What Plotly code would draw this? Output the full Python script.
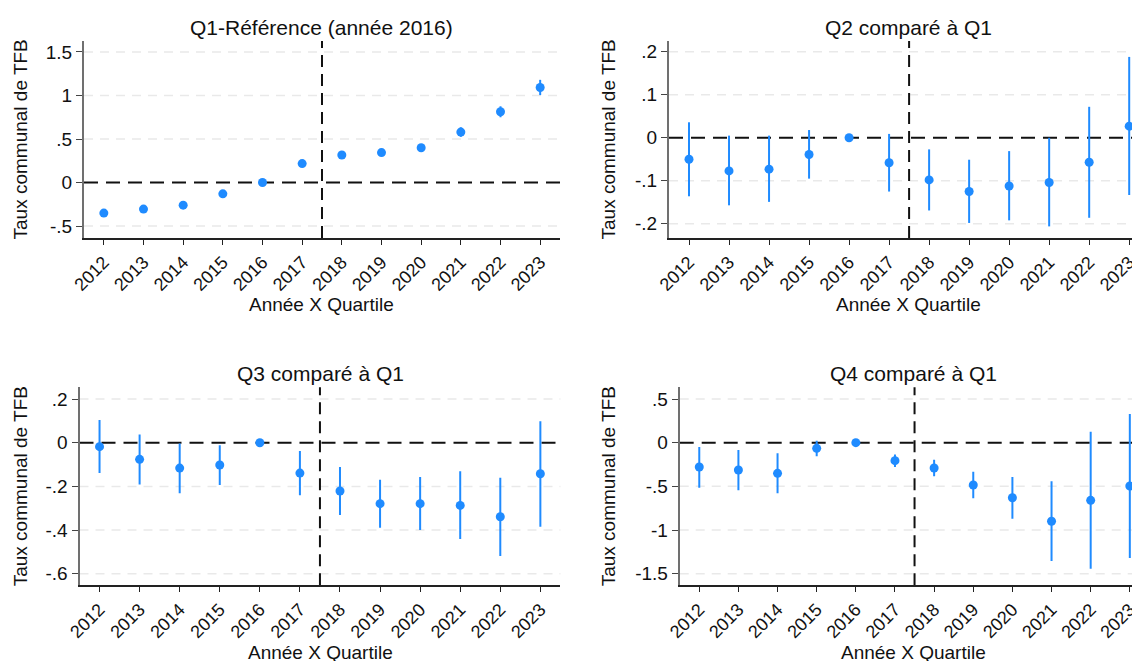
import plotly.graph_objects as go

annees = [2012, 2013, 2014, 2015, 2016, 2017, 2018, 2019, 2020, 2021, 2022, 2023]
ticks_annees = [str(a) for a in annees]

titres = ["Q1-Référence (année 2016)", "Q2 comparé à Q1", "Q3 comparé à Q1", "Q4 comparé à Q1"]

# coefficients et intervalles de confiance
q1_coef = [-0.351, -0.305, -0.26, -0.13, 0, 0.218, 0.317, 0.344, 0.40, 0.58, 0.813, 1.092]
q1_bas = [-0.375, -0.328, -0.283, -0.152, 0, 0.193, 0.287, 0.31, 0.36, 0.525, 0.75, 1.005]
q1_haut = [-0.328, -0.283, -0.238, -0.108, 0, 0.243, 0.347, 0.378, 0.44, 0.635, 0.876, 1.18]

q2_coef = [-0.05, -0.077, -0.073, -0.039, 0, -0.058, -0.098, -0.125, -0.112, -0.104, -0.057, 0.027]
q2_bas = [-0.136, -0.157, -0.149, -0.095, 0, -0.125, -0.169, -0.198, -0.192, -0.206, -0.186, -0.133]
q2_haut = [0.036, 0.005, 0.005, 0.018, 0, 0.009, -0.027, -0.051, -0.031, 0.0, 0.072, 0.188]

q3_coef = [-0.018, -0.076, -0.116, -0.102, 0, -0.139, -0.221, -0.279, -0.279, -0.287, -0.339, -0.142]
q3_bas = [-0.139, -0.191, -0.231, -0.194, 0, -0.24, -0.331, -0.389, -0.40, -0.441, -0.519, -0.385]
q3_haut = [0.104, 0.038, -0.003, -0.012, 0, -0.038, -0.111, -0.169, -0.157, -0.131, -0.160, 0.099]

q4_coef = [-0.279, -0.313, -0.351, -0.065, 0, -0.206, -0.29, -0.485, -0.63, -0.90, -0.66, -0.496]
q4_bas = [-0.515, -0.546, -0.58, -0.156, 0, -0.279, -0.385, -0.637, -0.87, -1.355, -1.443, -1.32]
q4_haut = [-0.05, -0.084, -0.122, 0.023, 0, -0.134, -0.195, -0.332, -0.393, -0.443, 0.126, 0.328]

y_ticks = [
    ([-0.5, 0, 0.5, 1, 1.5], ["-.5", "0", ".5", "1", "1.5"]),
    ([-0.2, -0.1, 0, 0.1, 0.2], ["-.2", "-.1", "0", ".1", ".2"]),
    ([-0.6, -0.4, -0.2, 0, 0.2], ["-.6", "-.4", "-.2", "0", ".2"]),
    ([-1.5, -1, -0.5, 0, 0.5], ["-1.5", "-1", "-.5", "0", ".5"]),
]

series = [(q1_coef, q1_bas, q1_haut), (q2_coef, q2_bas, q2_haut),
          (q3_coef, q3_bas, q3_haut), (q4_coef, q4_bas, q4_haut)]

# mise en page en pixels de la fenêtre 1140x661 ; la page html ajoute une marge de 8 px
M = 8
W, H = 1140 - M, 661 - M
cadres = [  # x0, x1, y_haut, y_bas, plage x, plage y
    (84, 560, 41, 238, [2011.5, 2023.5], [-0.637, 1.626]),
    (669, 1140, 41, 238, [2011.5, 2023.27], [-0.233, 0.225]),
    (79.5, 560.4, 387.3, 585.3, [2011.5, 2023.5], [-0.653, 0.254]),
    (679.7, 1140, 387.3, 585.3, [2011.5, 2023.26], [-1.633, 0.634]),
]
centres_titre = [322, 908, 320, 913]
y_titre = [27, 27, 373, 373]
y_xtitre = [305, 305, 652, 652]
x_ytitre = [20, 608, 20, 608]


def px(x):
    return (x - M) / W


def py(y):
    return 1 - (y - M) / H


bleu = "#1f8bff"
police = "Liberation Sans, Arial, sans-serif"

fig = go.Figure()
layout = dict(width=W, height=H, margin=dict(l=0, r=0, t=0, b=0, autoexpand=False),
              plot_bgcolor="white", paper_bgcolor="white", showlegend=False,
              font=dict(family=police, size=18, color="#111"))
annotations = []
shapes = []

for i, ((coef, bas, haut), cadre) in enumerate(zip(series, cadres)):
    x0, x1, yh, yb, xr, yr = cadre
    n = "" if i == 0 else str(i + 1)
    xa = "x" + n
    ya = "y" + n
    plus = [h - c for h, c in zip(haut, coef)]
    moins = [c - b for c, b in zip(coef, bas)]
    fig.add_trace(go.Scatter(
        x=annees, y=coef, mode="markers", xaxis=xa, yaxis=ya,
        marker=dict(color=bleu, size=9),
        error_y=dict(type="data", array=plus, arrayminus=moins,
                     color=bleu, thickness=2, width=0),
    ))
    layout["xaxis" + n] = dict(
        domain=[px(x0), min(px(x1), 1)], anchor=ya, range=xr, automargin=False,
        tickvals=annees, ticktext=ticks_annees, tickangle=-45,
        showgrid=False, zeroline=False, showline=True, linecolor="#222", linewidth=1.5,
        ticks="outside", ticklen=5, tickcolor="#222", tickfont=dict(size=18),
    )
    layout["yaxis" + n] = dict(
        domain=[py(yb), py(yh)], anchor=xa, range=yr, automargin=False,
        tickvals=y_ticks[i][0], ticktext=y_ticks[i][1],
        showgrid=False, zeroline=False, showline=True, linecolor="#707070", linewidth=2,
        ticks="outside", ticklen=6, tickcolor="#444", tickfont=dict(size=19),
    )
    # lignes de grille pointillées (sauf 0, couvert par la ligne de référence)
    for v in y_ticks[i][0]:
        if v != 0:
            shapes.append(dict(type="line", xref=xa + " domain", yref=ya, x0=0, x1=1, y0=v, y1=v,
                               line=dict(color="#e9e9e9", width=1.5, dash="9px,7px"), layer="below"))
    shapes.append(dict(type="line", xref=xa + " domain", yref=ya, x0=0, x1=1, y0=0, y1=0,
                       line=dict(color="#111", width=2, dash="14px,8px"), layer="below"))
    shapes.append(dict(type="line", xref=xa, yref=ya + " domain", x0=2017.5, x1=2017.5, y0=0, y1=1,
                       line=dict(color="#111", width=2, dash="12px,7px"), layer="below"))
    annotations.append(dict(text=titres[i], x=px(centres_titre[i]), y=py(y_titre[i]),
                            xref="paper", yref="paper", showarrow=False,
                            xanchor="center", yanchor="middle", font=dict(size=21)))
    annotations.append(dict(text="Année X Quartile", x=px(centres_titre[i]), y=py(y_xtitre[i]),
                            xref="paper", yref="paper", showarrow=False,
                            xanchor="center", yanchor="middle", font=dict(size=19)))
    annotations.append(dict(text="Taux communal de TFB", x=px(x_ytitre[i]), y=py((yh + yb) / 2),
                            xref="paper", yref="paper", showarrow=False, textangle=-90,
                            xanchor="center", yanchor="middle", font=dict(size=19)))

layout["annotations"] = annotations
layout["shapes"] = shapes
fig.update_layout(**layout)

fig.write_html("out.html")
